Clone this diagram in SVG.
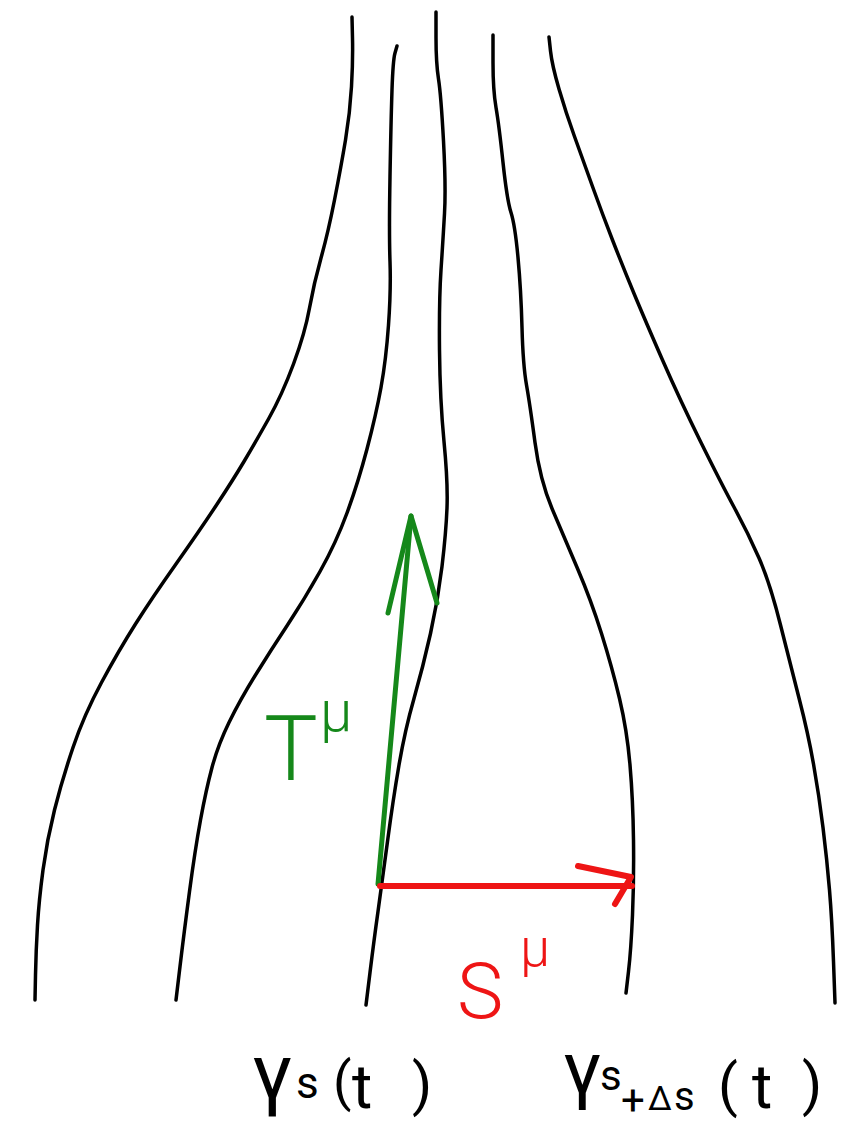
<svg xmlns="http://www.w3.org/2000/svg" width="846" height="1128" viewBox="0 0 846 1128">
<style>
.curve{fill:none;stroke:#000;stroke-width:3.5;stroke-linecap:round;stroke-linejoin:round}
.green{fill:none;stroke:#15881a;stroke-width:5;stroke-linecap:round;stroke-linejoin:round}
.red{fill:none;stroke:#ee1515;stroke-width:6;stroke-linecap:round;stroke-linejoin:round}
.lbl{font-family:Roboto,"Liberation Sans","DejaVu Sans",sans-serif;font-weight:400;fill:#000}
.gt{font-family:Roboto,"Liberation Sans","DejaVu Sans",sans-serif;font-weight:300;fill:#15881a}
.rt{font-family:Roboto,"Liberation Sans","DejaVu Sans",sans-serif;font-weight:300;fill:#ee1515}
</style>
<rect width="846" height="1128" fill="#fff"/>
<g id="curves">
<path id="curve1" class="curve" d="M352,17 L352.5,38.5 Q353,60 351.5,86.5 Q350,113 345.5,140 Q341,167 334.5,200 Q328,233 321,258 Q314,283 309.5,308 Q305,333 293.5,364 Q282,395 268.5,419 Q255,443 244,461.5 Q233,480 216.5,505 Q200,530 176,564 Q152,598 135.5,624 Q119,650 101.5,682.5 Q84,715 73,747.5 Q62,780 54.5,810 Q47,840 43,870 Q39,900 37.5,925 Q36,950 35.5,975 L35,1000"/>
<path id="curve2" class="curve" d="M397,46 L395,53 Q393,60 392,90 Q391,120 390,176.5 Q389,233 390,261.5 Q391,290 388.5,325 Q386,360 381,387.5 Q376,415 367,449 Q358,483 347,513 Q336,543 320,571.5 Q304,600 287.5,625 Q271,650 255.5,675 Q240,700 229,722.5 Q218,745 212,767.5 Q206,790 200.5,820 Q195,850 189.5,891.5 Q184,933 180,966.5 L176,1000"/>
<path id="curve3" class="curve" d="M436,12 L436,37.5 Q436,63 438.5,79 Q441,95 443.5,141 Q446,187 444.5,213.5 Q443,240 441,270 Q439,300 439.5,350 Q440,400 444,441.5 Q448,483 447,508 Q446,533 442,566.5 Q438,600 430.5,633.5 Q423,667 414,698.5 Q405,730 399,765 Q393,800 387.5,841.5 Q382,883 378,911.5 Q374,940 370,972.5 L366,1005"/>
<path id="curve4" class="curve" d="M493,35 L493,62.5 Q493,90 496,107.5 Q499,125 503,162.5 Q507,200 511,212.5 Q515,225 518,257.5 Q521,290 522,327.5 Q523,365 526.5,385 Q530,405 535,442.5 Q540,480 552,508.5 Q564,537 577.5,568.5 Q591,600 601.5,633.5 Q612,667 619.5,698.5 Q627,730 630,765 Q633,800 633.5,840 Q634,880 632.5,915 Q631,950 628.5,971.5 L626,993"/>
<path id="curve5" class="curve" d="M549,37 L550.5,51 Q552,65 559,89 Q566,113 574.5,136.5 Q583,160 592.5,186.5 Q602,213 612.5,240 Q623,267 634,293.5 Q645,320 662.5,360 Q680,400 700.5,441.5 Q721,483 734.5,508 Q748,533 759,558 Q770,583 780.5,625 Q791,667 799.5,700 Q808,733 813.5,764 Q819,795 823,827.5 Q827,860 829.5,890 Q832,920 833.5,961.5 L835,1003"/>
</g>
<g id="connectors">
<g id="vector-T">
<line class="green" x1="378" y1="884" x2="411" y2="516"/>
<polyline class="green" points="388,613 411,516 437,603"/>
</g>
<g id="vector-S">
<line class="red" x1="380" y1="886" x2="632" y2="886"/>
<polyline class="red" points="578,866 631,877 615,904"/>
</g>
</g>
<g id="label-T">
<text class="gt" font-size="90" x="264" y="780">T</text>
<text class="gt" font-size="58" x="320" y="731">μ</text>
</g>
<g id="label-S">
<text class="rt" font-size="78" x="457" y="1018">S</text>
<text class="rt" font-size="54" x="520" y="966">μ</text>
</g>
<g id="label-gamma-s">
<text class="lbl"><tspan font-size="80" x="252" y="1100">γ</tspan><tspan font-size="44" x="296" y="1098">s</tspan><tspan font-size="54" x="333" y="1100">(</tspan><tspan font-size="62" x="352" y="1108">t</tspan><tspan font-size="58" x="412" y="1104">)</tspan></text>
</g>
<g id="label-gamma-s-ds">
<text class="lbl"><tspan font-size="76" x="563" y="1095">γ</tspan><tspan font-size="42" x="600" y="1090">s</tspan><tspan font-size="42" x="621" y="1115">+</tspan><tspan font-size="34" x="648" y="1110">Δ</tspan><tspan font-size="40" x="674" y="1110">s</tspan><tspan font-size="58" x="718" y="1105">(</tspan><tspan font-size="62" x="752" y="1108">t</tspan><tspan font-size="58" x="802" y="1104">)</tspan></text>
</g>
</svg>
